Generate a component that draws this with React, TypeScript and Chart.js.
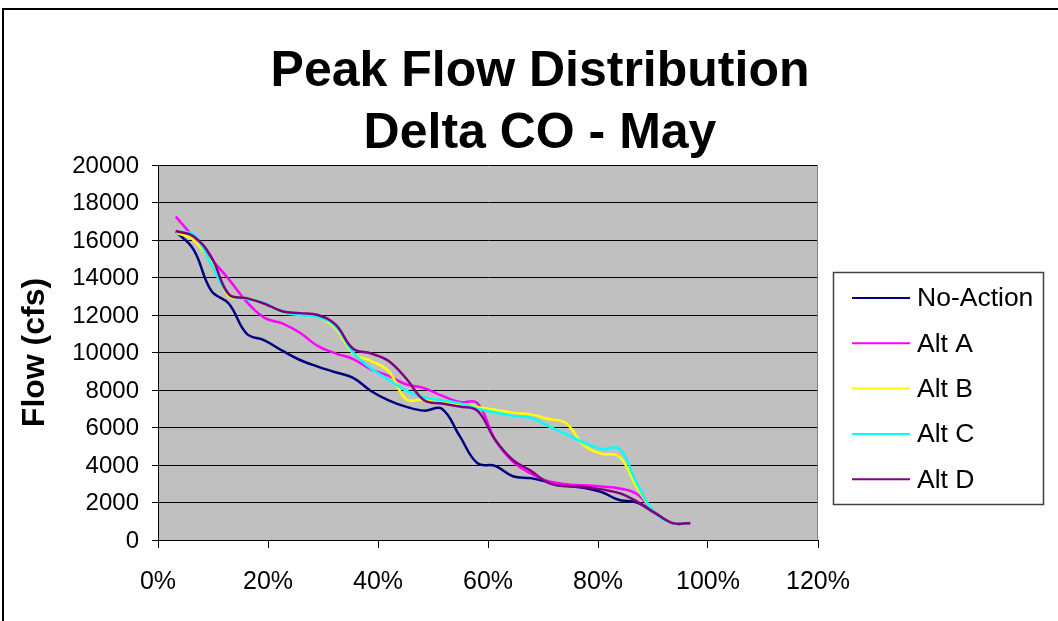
import React, { useEffect, useRef } from "react";
import { Chart, registerables } from "chart.js";

Chart.register(...registerables);

// Exceedance probability (fraction of years)
const exceedance = [
  0.0323, 0.0645, 0.0968, 0.129, 0.1613, 0.1935, 0.2258, 0.2581, 0.2903, 0.3226,
  0.3548, 0.3871, 0.4194, 0.4516, 0.4839, 0.5161, 0.5484, 0.5806, 0.6129, 0.6452,
  0.6774, 0.7097, 0.7419, 0.7742, 0.8065, 0.8387, 0.871, 0.9032, 0.9355, 0.9677,
];

const noAction = [
  16450, 15500, 13300, 12600, 11000, 10650, 10100, 9600, 9250, 8950,
  8650, 7950, 7450, 7100, 6900, 7000, 5550, 4100, 3950, 3400,
  3300, 3100, 2900, 2780, 2550, 2130, 2000, 1450, 900, 900,
];
const altA = [
  17250, 16150, 15000, 13900, 12700, 11850, 11550, 11050, 10350, 9950,
  9650, 9100, 8750, 8300, 8100, 7700, 7360, 7300, 5350, 4180,
  3550, 3130, 2980, 2920, 2850, 2750, 2450, 1450, 900, 900,
];
const altB = [
  16400, 16000, 14800, 13000, 12900, 12600, 12150, 12050, 11900, 11300,
  9950, 9550, 9000, 7500, 7500, 7350, 7250, 7100, 6950, 6780,
  6700, 6450, 6230, 5050, 4600, 4450, 2800, 1450, 900, 900,
];
const altC = [
  16430, 16300, 14700, 13100, 12850, 12650, 12150, 12000, 11900, 11400,
  10000, 9150, 8550, 7950, 7600, 7450, 7300, 7000, 6800, 6620,
  6520, 6080, 5650, 5200, 4850, 4870, 3000, 1450, 900, 900,
];
const altD = [
  16480, 16200, 15100, 13100, 12900, 12600, 12200, 12100, 12000, 11500,
  10200, 9950, 9550, 8600, 7450, 7280, 7120, 6900, 5350, 4270,
  3700, 3050, 2860, 2830, 2700, 2500, 2050, 1450, 900, 900,
];

const seriesLabels = ["No-Action", "Alt A", "Alt B", "Alt C", "Alt D"];
const seriesValues = [noAction, altA, altB, altC, altD];
const seriesColors = ["#000080", "#FF00FF", "#FFFF00", "#00FFFF", "#800080"];

const titleLines = ["Peak Flow Distribution", "Delta CO - May"];
const yAxisTitle = "Flow (cfs)";

const FONT = "'Liberation Sans', Arial, Helvetica, sans-serif";

const decorPlugin = {
  id: "decor",
  beforeDraw(chart: any) {
    const { ctx, chartArea: a } = chart;
    ctx.save();
    ctx.fillStyle = "#ffffff";
    ctx.fillRect(0, 0, chart.width, chart.height);
    ctx.fillStyle = "#C0C0C0";
    ctx.fillRect(a.left, a.top, a.right - a.left, a.bottom - a.top);
    ctx.restore();
  },
  afterDraw(chart: any) {
    const { ctx, chartArea: a } = chart;
    ctx.save();
    // plot area right border
    ctx.strokeStyle = "#808080";
    ctx.lineWidth = 1;
    ctx.beginPath();
    ctx.moveTo(Math.round(a.right) - 0.5, a.top);
    ctx.lineTo(Math.round(a.right) - 0.5, a.bottom);
    ctx.stroke();

    // outer chart border
    ctx.fillStyle = "#000";
    ctx.fillRect(2, 8, chart.width, 2);
    ctx.fillRect(2, 8, 2, chart.height);

    // title
    ctx.fillStyle = "#000";
    ctx.font = `bold 50px ${FONT}`;
    ctx.textAlign = "center";
    ctx.textBaseline = "alphabetic";
    ctx.fillText(titleLines[0], 540, 86);
    ctx.fillText(titleLines[1], 540, 148);

    // tick labels
    const ys = chart.scales.y;
    ctx.font = `24px ${FONT}`;
    ctx.textBaseline = "middle";
    ctx.textAlign = "right";
    ys.ticks.forEach((t: any) => {
      const py = ys.getPixelForValue(t.value);
      ctx.fillText(String(t.label), 139, py + 1);
    });
    const xs = chart.scales.x;
    ctx.font = `25px ${FONT}`;
    ctx.textAlign = "center";
    xs.ticks.forEach((t: any) => {
      const px = xs.getPixelForValue(t.value);
      ctx.fillText(String(t.label), px, 582);
    });

    // legend
    const lx = 833, ly = 272, lw = 210, lh = 232;
    ctx.fillStyle = "#fff";
    ctx.fillRect(lx, ly, lw, lh);
    ctx.strokeStyle = "#404040";
    ctx.lineWidth = 1.5;
    ctx.strokeRect(lx + 0.5, ly + 0.5, lw, lh);
    ctx.font = `26.5px ${FONT}`;
    ctx.textAlign = "left";
    ctx.textBaseline = "middle";
    chart.data.datasets.forEach((ds: any, i: number) => {
      const ry = 298 + i * 45.3;
      ctx.strokeStyle = ds.borderColor;
      ctx.lineWidth = 2;
      ctx.beginPath();
      ctx.moveTo(852, ry);
      ctx.lineTo(910, ry);
      ctx.stroke();
      ctx.fillStyle = "#000";
      ctx.fillText(ds.label, 917, ry + 1);
    });
    ctx.restore();
  },
};

export default function App() {
  const ref = useRef<HTMLCanvasElement>(null);
  useEffect(() => {
    if (!ref.current) return;
    const datasets = seriesLabels.map((label, i) => ({
      label,
      data: seriesValues[i].map((v, j) => ({ x: exceedance[j], y: v })),
      borderColor: seriesColors[i],
      backgroundColor: seriesColors[i],
      borderWidth: 2.5,
      pointRadius: 0,
      tension: 0.4,
      fill: false,
      order: seriesLabels.length - 1 - i,
    }));
    const chart = new Chart(ref.current, {
      type: "line",
      data: { datasets },
      options: {
        responsive: false,
        animation: false,
        layout: { padding: { left: 0, top: 165, right: 240, bottom: 0 } },
        plugins: {
          legend: { display: false },
          title: { display: false },
          tooltip: { enabled: false },
        },
        scales: {
          x: {
            type: "linear",
            min: 0,
            max: 1.2,
            afterFit: (s: any) => {
              s.height = 81;
            },
            ticks: {
              stepSize: 0.2,
              autoSkip: false,
              color: "rgba(0,0,0,0)",
              callback: (v: any) => Math.round(Number(v) * 100) + "%",
            },
            grid: {
              drawOnChartArea: false,
              drawTicks: true,
              tickLength: 8,
              tickColor: "#000",
            },
            border: { color: "#000", width: 1 },
          },
          y: {
            min: 0,
            max: 20000,
            afterFit: (s: any) => {
              s.width = 158;
            },
            ticks: {
              stepSize: 2000,
              autoSkip: false,
              color: "rgba(0,0,0,0)",
              callback: (v: any) => String(v),
            },
            grid: {
              color: "#000",
              lineWidth: 1,
              drawTicks: true,
              tickLength: 6,
              tickColor: "#000",
            },
            border: { color: "#000", width: 1 },
            title: {
              display: true,
              text: yAxisTitle,
              color: "#000",
              font: { family: FONT, size: 32, weight: "bold" },
              padding: { top: 16, bottom: 0 },
            },
          },
        },
      },
      plugins: [decorPlugin],
    });
    return () => chart.destroy();
  }, []);
  return (
    <div style={{ position: "absolute", left: 0, top: 0, width: 1058, height: 621, background: "#fff" }}>
      <canvas ref={ref} width={1058} height={621} style={{ display: "block" }} />
    </div>
  );
}
